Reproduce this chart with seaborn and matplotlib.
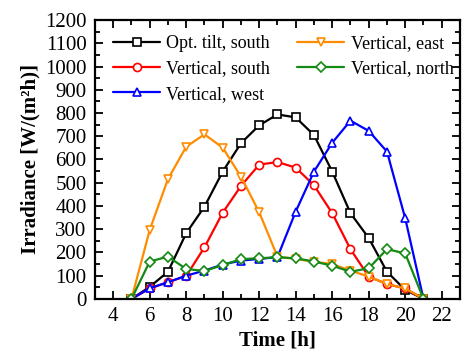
import matplotlib
matplotlib.use("Agg")
import numpy as np
import pandas as pd
import seaborn as sns
import matplotlib.pyplot as plt
from matplotlib.ticker import MultipleLocator

# Hourly irradiance on differently oriented surfaces
hours = list(range(5, 22))
opt_tilt_south = [0, 52, 117, 283, 397, 548, 670, 747, 794, 781, 705, 548, 369, 262, 117, 39, 0]
vertical_south = [0, 45, 72, 99, 222, 371, 486, 578, 589, 565, 489, 369, 214, 96, 64, 45, 0]
vertical_west = [0, 46, 72, 100, 122, 148, 165, 172, 180, 376, 548, 672, 767, 723, 634, 347, 0]
vertical_east = [0, 297, 516, 655, 708, 651, 526, 373, 182, 172, 160, 150, 122, 96, 64, 45, 0]
vertical_north = [0, 161, 182, 129, 120, 146, 171, 175, 179, 175, 161, 143, 117, 132, 214, 196, 0]

series_names = ["Opt. tilt, south", "Vertical, south", "Vertical, west",
                "Vertical, east", "Vertical, north"]
series_values = [opt_tilt_south, vertical_south, vertical_west, vertical_east, vertical_north]
series_colors = ["#000000", "#ff0000", "#0000ff", "#ff8c00", "#138a13"]
series_markers = ["s", "o", "^", "v", "D"]

x_ticks = list(range(4, 23, 2))
y_ticks = list(range(0, 1201, 100))

df = pd.DataFrame({
    "Time": hours * len(series_names),
    "Irradiance": sum(series_values, []),
    "Series": [n for n in series_names for _ in hours],
})

sns.set_style("ticks")
plt.rcParams["font.family"] = ["Liberation Serif", "DejaVu Serif"]
plt.rcParams.update({
    "text.color": "black",
    "axes.labelcolor": "black",
    "axes.edgecolor": "black",
    "xtick.color": "black",
    "ytick.color": "black",
})

fig = plt.figure(figsize=(4.64, 3.58), dpi=100)
ax = fig.add_axes([0.2047, 0.165, 0.7866, 0.779])

for name, color, marker in zip(series_names, series_colors, series_markers):
    sub = df[df["Series"] == name]
    ms = 5.8 if marker != "D" else 5.2
    sns.lineplot(data=sub, x="Time", y="Irradiance", ax=ax, color=color,
                 marker=marker, markersize=ms, markerfacecolor="white",
                 markeredgecolor=color, markeredgewidth=1.2, linewidth=1.6,
                 label=name, sort=False)

ax.set_xlim(3, 23)
ax.set_ylim(0, 1200)
ax.set_xticks(x_ticks)
ax.set_yticks(y_ticks)
ax.xaxis.set_minor_locator(MultipleLocator(1))
ax.yaxis.set_minor_locator(MultipleLocator(50))
ax.tick_params(which="both", direction="in", top=True, right=True, width=1.3,
               labelsize=15, pad=6)
ax.tick_params(which="major", length=6)
ax.tick_params(which="minor", length=3.5)
for sp in ax.spines.values():
    sp.set_linewidth(1.6)

ax.set_xlabel("Time [h]", fontsize=15, fontweight="bold", labelpad=3)
ax.set_ylabel("Irradiance [W/(m²h)]", fontsize=15, fontweight="bold", labelpad=3)

ax.legend(ncol=2, loc="upper left", bbox_to_anchor=(0.05, 0.945), frameon=False,
          fontsize=13, handlelength=2.6, handletextpad=0.35, columnspacing=1.5,
          labelspacing=0.45, borderaxespad=0, borderpad=0)

fig.savefig("out.png", dpi=100)
